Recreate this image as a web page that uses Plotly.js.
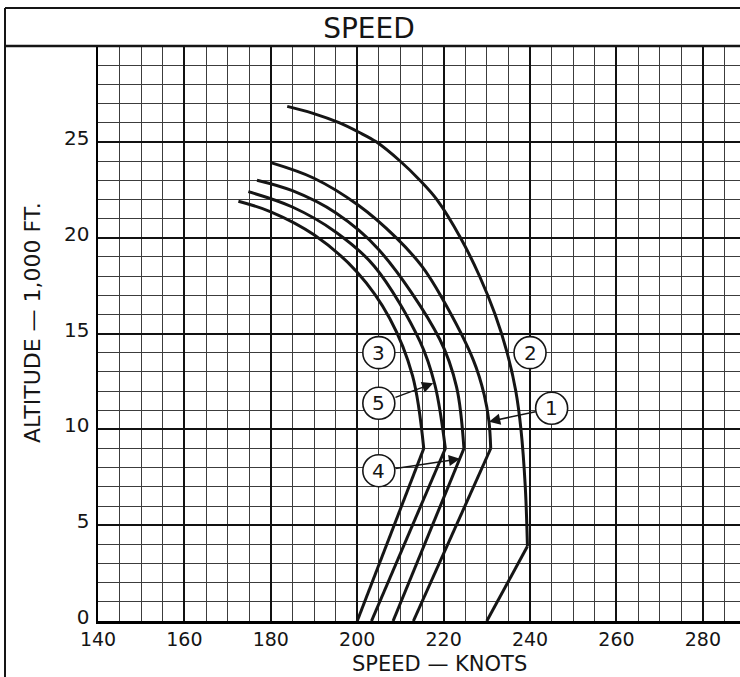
<!DOCTYPE html>
<html>
<head>
<meta charset="utf-8">
<script src="https://cdn.plot.ly/plotly-3.0.1.min.js"></script>
<style>
  html, body { margin: 0; padding: 0; background: #fff; overflow: hidden; }
  #chart { width: 740px; height: 677px; }
</style>
</head>
<body>
<div id="chart"></div>
<script>
// ---- data ----
const speedTicks = [140, 160, 180, 200, 220, 240, 260, 280];
const altTicks = [0, 5, 10, 15, 20, 25];

// curve 3 (leftmost)
const c3ArcSpeed = [172.5, 180, 190, 200, 207.5, 212.8, 215.4];
const c3ArcAlt   = [21.9, 21.35, 20.15, 18.2, 15.8, 12.8, 9.0];
const c3LowSpeed = [215.4, 200.0];
const c3LowAlt   = [9.0, 0];

// curve 5
const c5ArcSpeed = [174.8, 185, 195, 204, 214.5, 218, 220.4];
const c5ArcAlt   = [22.4, 21.6, 20.3, 18.5, 14.6, 12.3, 9.0];
const c5LowSpeed = [220.4, 203.3];
const c5LowAlt   = [9.0, 0];

// curve 4
const c4ArcSpeed = [176.8, 185, 195, 204.9, 219.1, 223, 224.7];
const c4ArcAlt   = [23.0, 22.45, 21.3, 19.4, 14.7, 12.2, 9.0];
const c4LowSpeed = [224.7, 208.3];
const c4LowAlt   = [9.0, 0];

// curve 1
const c1ArcSpeed = [180.2, 190, 200.2, 209.0, 215.0, 219.5, 226.9, 229.4, 230.5, 230.9];
const c1ArcAlt   = [23.9, 23.1, 21.7, 20.0, 18.5, 16.9, 13.6, 11.8, 10.4, 9.0];
const c1LowSpeed = [230.9, 213.0];
const c1LowAlt   = [9.0, 0];

// curve 2 (rightmost)
const c2ArcSpeed = [183.8, 189.6, 195.8, 200.4, 204.4, 209.9, 214.5, 218.4, 223.9, 228.3, 231.9, 234.7, 236.7, 237.9, 238.9, 239.4];
const c2ArcAlt   = [26.85, 26.5, 26.0, 25.5, 25.0, 24.0, 23.0, 22.0, 20.0, 18.0, 16.0, 14.0, 12.0, 10.0, 7.0, 3.9];
const c2LowSpeed = [239.4, 230.0];
const c2LowAlt   = [3.9, 0];

// circled curve numbers
const labelText  = ['1', '2', '3', '4', '5'];
const labelSpeed = [245, 240, 205, 205, 205];
const labelAlt   = [11.1, 14.0, 14.0, 7.84, 11.36];

// leader arrows (tail at circle, head on curve) for labels 1, 4, 5
const arrowTailSpeed = [241.6, 208.5, 208.5];
const arrowTailAlt   = [10.94, 7.95, 11.64];
const arrowHeadSpeed = [230.5, 223.8, 217.6];
const arrowHeadAlt   = [10.4, 8.46, 12.4];

// ---- drawing ----
const FONT = 'DejaVu Sans, Liberation Sans, sans-serif';
const INK = '#151515';

const curveSets = [
  [c3ArcSpeed, c3ArcAlt, c3LowSpeed, c3LowAlt],
  [c5ArcSpeed, c5ArcAlt, c5LowSpeed, c5LowAlt],
  [c4ArcSpeed, c4ArcAlt, c4LowSpeed, c4LowAlt],
  [c1ArcSpeed, c1ArcAlt, c1LowSpeed, c1LowAlt],
  [c2ArcSpeed, c2ArcAlt, c2LowSpeed, c2LowAlt]
];

const traces = [];
curveSets.forEach(function (c) {
  traces.push({
    type: 'scatter', mode: 'lines', x: c[0], y: c[1],
    line: { color: INK, width: 3, shape: 'spline', smoothing: 1 },
    hoverinfo: 'skip'
  });
  traces.push({
    type: 'scatter', mode: 'lines', x: c[2], y: c[3],
    line: { color: INK, width: 3 },
    hoverinfo: 'skip'
  });
});

const R = 16;
const shapes = [];
labelText.forEach(function (t, i) {
  shapes.push({
    type: 'circle', xref: 'x', yref: 'y', layer: 'above',
    xsizemode: 'pixel', ysizemode: 'pixel',
    xanchor: labelSpeed[i], yanchor: labelAlt[i],
    x0: -R, x1: R, y0: -R, y1: R,
    fillcolor: '#ffffff', line: { color: INK, width: 1.6 }
  });
});

// frame: title box and outer border
const leftBorder = (5 - 98) / 642;
const topBorder = (621 - 8) / 575;
const bottomEdge = (621 - 677) / 575;
shapes.push({ type: 'line', xref: 'paper', yref: 'paper', x0: leftBorder, x1: 1, y0: topBorder, y1: topBorder, line: { color: INK, width: 2 } });
shapes.push({ type: 'line', xref: 'paper', yref: 'paper', x0: leftBorder, x1: 1, y0: 1, y1: 1, line: { color: INK, width: 2.5 } });
shapes.push({ type: 'line', xref: 'paper', yref: 'paper', x0: leftBorder, x1: leftBorder, y0: topBorder, y1: bottomEdge, line: { color: INK, width: 2 } });

const annotations = [];
labelText.forEach(function (t, i) {
  annotations.push({
    x: labelSpeed[i], y: labelAlt[i], xref: 'x', yref: 'y',
    text: t, showarrow: false,
    font: { family: FONT, size: 20, color: INK },
    xanchor: 'center', yanchor: 'middle'
  });
});
arrowHeadSpeed.forEach(function (hx, i) {
  annotations.push({
    x: hx, y: arrowHeadAlt[i], xref: 'x', yref: 'y',
    ax: arrowTailSpeed[i], ay: arrowTailAlt[i], axref: 'x', ayref: 'y',
    text: '', showarrow: true, arrowhead: 2, arrowsize: 1.5, arrowwidth: 1.5,
    arrowcolor: INK, standoff: 0, startstandoff: 0
  });
});
annotations.push({
  xref: 'paper', yref: 'paper', x: (440 - 98) / 642, y: (621 - 664) / 575,
  text: 'SPEED — KNOTS', showarrow: false,
  font: { family: FONT, size: 21, color: INK },
  xanchor: 'center', yanchor: 'middle'
});
annotations.push({
  xref: 'paper', yref: 'paper', x: (33 - 98) / 642, y: (621 - 323) / 575,
  text: 'ALTITUDE — 1,000 FT.', textangle: -90, showarrow: false,
  font: { family: FONT, size: 22, color: INK },
  xanchor: 'center', yanchor: 'middle'
});

const layout = {
  width: 740, height: 677,
  margin: { l: 98, r: 0, t: 46, b: 56, pad: 0 },
  paper_bgcolor: '#ffffff', plot_bgcolor: '#ffffff',
  showlegend: false,
  title: {
    text: 'SPEED', xref: 'container', yref: 'container',
    x: 369 / 740, y: 1 - 28 / 677, xanchor: 'center', yanchor: 'middle',
    font: { family: FONT, size: 28, color: INK }
  },
  xaxis: {
    range: [140, 288.6], tickmode: 'array', tickvals: speedTicks,
    ticktext: speedTicks.map(String),
    showgrid: true, gridcolor: '#111', gridwidth: 2,
    minor: { tick0: 140, dtick: 5, showgrid: true, gridcolor: '#3c3c3c', gridwidth: 1, ticks: '' },
    showline: true, linecolor: '#000', linewidth: 2.5,
    ticks: '', zeroline: false, ticklabelstandoff: 0,
    tickfont: { family: FONT, size: 19, color: INK }, fixedrange: true
  },
  yaxis: {
    range: [0, 30], tickmode: 'array', tickvals: altTicks,
    ticktext: altTicks.map(String),
    showgrid: true, gridcolor: '#111', gridwidth: 2,
    minor: { tick0: 0, dtick: 1, showgrid: true, gridcolor: '#3c3c3c', gridwidth: 1, ticks: '' },
    showline: true, linecolor: '#000', linewidth: 2.5,
    ticks: '', zeroline: false, ticklabelstandoff: 2, ticklabelshift: -4,
    tickfont: { family: FONT, size: 20, color: INK }, fixedrange: true
  },
  shapes: shapes,
  annotations: annotations
};

Plotly.newPlot('chart', traces, layout, { staticPlot: true, displayModeBar: false });
</script>
</body>
</html>
